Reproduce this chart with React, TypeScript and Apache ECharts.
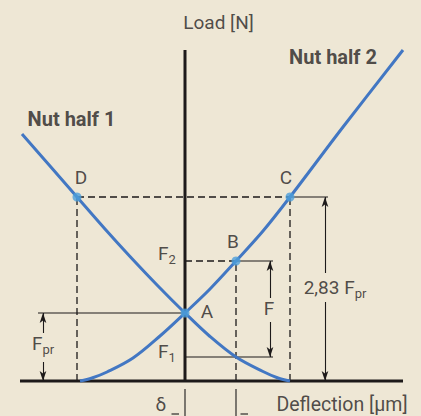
import React, { useEffect, useRef } from "react";
import * as echarts from "echarts";

// Deflection (µm, arbitrary units) vs Load (N, arbitrary units)
const nutHalf1: number[][] = [
  [-16.3, 24.7], [-13.5, 21.5], [-10.8, 18.4], [-8, 15.2], [-5.5, 12.45], [-2.7, 9.5],
  [0, 6.8], [2.5, 4.45], [5.1, 2.4], [7.8, 0.95], [9.3, 0.3], [10.5, 0],
];
const nutHalf2: number[][] = [
  [-10.5, 0], [-9.3, 0.3], [-7.8, 0.9], [-5.2, 2.3], [-2.5, 4.5], [0, 6.8],
  [2.5, 9.2], [5.1, 12.0], [7.8, 15.0], [10.5, 18.4], [15.8, 25.4], [21.8, 33.1],
];
const pointA = [0, 6.8];
const pointB = [5.1, 12.0];
const pointC = [10.5, 18.4];
const pointD = [-10.8, 18.4];
const loadF1 = 2.4;
const deflectionRange = [-16.5, 21.8];
const loadTop = 33.1;

const BLACK = "#1d1a1a";
const TEXT = "#262223";
const FONT = "Roboto";
const BLUE = "#4277c3";
const DOT = "#4c9fdb";

const seg = (pts: number[][], style: any = {}) => ({
  type: "line",
  data: pts,
  symbol: "none",
  silent: true,
  z: 2,
  lineStyle: { color: BLACK, width: 1.1, ...style },
});

const rich = {
  m: { fontSize: 19, lineHeight: 22, verticalAlign: "top", color: TEXT, fontFamily: FONT },
  s: { fontSize: 13, lineHeight: 14, verticalAlign: "bottom", color: TEXT, fontFamily: FONT },
};

export default function App() {
  const ref = useRef<HTMLDivElement>(null);
  useEffect(() => {
    document.body.style.margin = "0";
    const chart = echarts.init(ref.current!, null, { renderer: "svg" });
    const dash = { type: [7, 4], width: 1.3 };
    const xF = 8.5;
    const x283 = 14.0;
    const xFpr = -14.2;
    const option: any = {
      animation: false,
      backgroundColor: "#eee7d5",
      grid: { left: 0, right: 0, top: 0, bottom: 0, containLabel: false },
      xAxis: { type: "value", min: -18.5, max: 23.6, show: false },
      yAxis: { type: "value", min: -3.5, max: 38.1, show: false },
      series: [
        // axes
        seg([[0, 0], [0, loadTop]], { width: 3 }),
        seg([[deflectionRange[0], 0], [deflectionRange[1], 0]], { width: 3 }),
        seg([[0, -0.8], [0, -3.5]]),
        seg([[pointB[0], -0.8], [pointB[0], -3.5]]),
        seg([[-1.35, -3.3], [-0.6, -3.3]]),
        seg([[5.55, -3.3], [6.3, -3.3]]),
        // reference lines
        seg([[-14.7, pointA[1]], pointA]),
        seg([pointD, pointC], dash),
        seg([pointC, [14.3, pointC[1]]]),
        seg([[pointD[0], 0], pointD], dash),
        seg([[pointC[0], 0], pointC], dash),
        seg([[0, pointB[1]], pointB], dash),
        seg([pointB, [8.8, pointB[1]]]),
        seg([[pointB[0], 0], pointB], dash),
        seg([[0, loadF1], [8.8, loadF1]]),
        // dimension arrows
        {
          type: "line",
          data: [],
          silent: true,
          markLine: {
            silent: true,
            animation: false,
            symbol: ["none", "arrow"],
            symbolSize: [5, 10],
            label: { show: false },
            lineStyle: { color: BLACK, width: 1.1, type: "solid" },
            data: [
              [{ coord: [xF, 8.3] }, { coord: [xF, pointB[1]] }],
              [{ coord: [xF, 5.9] }, { coord: [xF, loadF1] }],
              [{ coord: [x283, 10.8] }, { coord: [x283, pointC[1]] }],
              [{ coord: [x283, 7.9] }, { coord: [x283, 0] }],
              [{ coord: [xFpr, 4.8] }, { coord: [xFpr, pointA[1]] }],
              [{ coord: [xFpr, 1.9] }, { coord: [xFpr, 0] }],
            ],
          },
        },
        // curves
        {
          type: "line", name: "Nut half 1", data: nutHalf1, smooth: 0.35,
          symbol: "none", z: 3, lineStyle: { color: BLUE, width: 3 },
        },
        {
          type: "line", name: "Nut half 2", data: nutHalf2, smooth: 0.35,
          symbol: "none", z: 3, lineStyle: { color: BLUE, width: 3 },
        },
        // points
        {
          type: "scatter",
          z: 5,
          symbolSize: 9,
          itemStyle: { color: DOT },
          label: { show: true, position: "inside", formatter: "{b}", fontSize: 19, color: TEXT, fontFamily: FONT },
          data: [
            { name: "A", value: pointA, label: { offset: [22, -2] } },
            { name: "B", value: pointB, label: { offset: [-3, -20] } },
            { name: "C", value: pointC, label: { offset: [-4, -20] } },
            { name: "D", value: pointD, label: { offset: [4, -20] } },
          ],
        },
        // text labels
        {
          type: "scatter",
          z: 6,
          symbolSize: 0.1,
          silent: true,
          itemStyle: { color: "transparent" },
          label: { show: true, position: "inside", formatter: "{b}", fontSize: 19, color: TEXT, fontFamily: FONT },
          data: [
            { name: "Load [N]", value: [3.35, 35.9] },
            { name: "Nut half 2", value: [14.8, 32.4], label: { fontWeight: "bold", fontSize: 20 } },
            { name: "Nut half 1", value: [-11.35, 26.2], label: { fontWeight: "bold", fontSize: 20 } },
            { name: "F2", value: [0, pointB[1]], label: { offset: [-18, -6], formatter: "{m|F}{s|2}", rich } },
            { name: "F1", value: [0, loadF1], label: { offset: [-18, -4], formatter: "{m|F}{s|1}", rich } },
            { name: "F", value: [xF - 0.1, 7.3] },
            { name: "2,83 Fpr", value: [15.0, 9.2], label: { formatter: "{m|2,83 F}{s|pr}", rich } },
            { name: "Fpr", value: [-14.2, 3.6], label: { formatter: "{m|F}{s|pr}", rich } },
            { name: "δ", value: [-2.4, -2.3] },
            { name: "Deflection [µm]", value: [15.7, -2.3], label: { fontSize: 19.5 } },
          ],
        },
      ],
    };
    chart.setOption(option);
    return () => chart.dispose();
  }, []);
  return <div ref={ref} style={{ width: 421, height: 416 }} />;
}
